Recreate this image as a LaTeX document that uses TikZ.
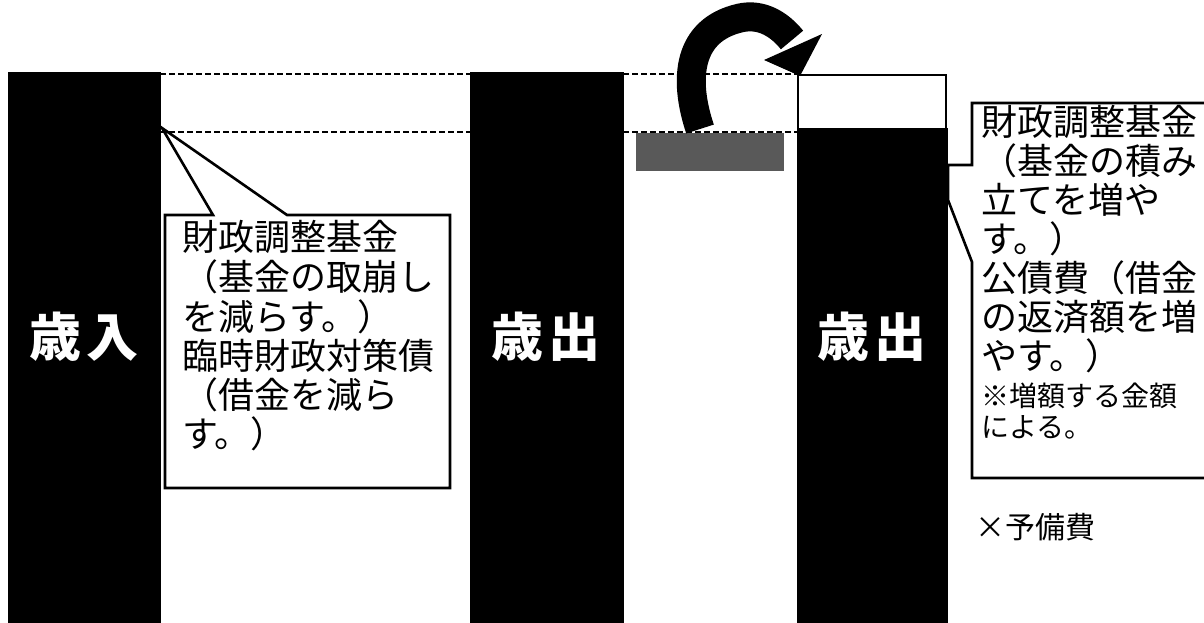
\documentclass[tikz,border=0pt]{standalone}
\usepackage{fontspec}
\newfontfamily\jp{Noto Sans CJK JP}
\begin{document}
\begin{tikzpicture}[x=1pt,y=-1pt,
  bar/.style={fill=black,draw=black},
  guide/.style={line width=2pt,dash pattern=on 6pt off 3pt},
  callout/.style={draw=black,line width=2.6pt,fill=white,line join=miter},
  txt/.style={anchor=west,inner sep=0pt,font=\jp\fontsize{36}{40}\selectfont},
  smalltxt/.style={anchor=west,inner sep=0pt,font=\jp\fontsize{28}{32}\selectfont},
  barlabel/.style={text=white,inner sep=0pt,font=\jp\bfseries\fontsize{52}{56}\selectfont}]
\useasboundingbox (0,0) rectangle (1204,622);
\clip (0,0) rectangle (1204,622);
\fill[white] (0,0) rectangle (1204,622);

% guide lines
\draw[guide] (160,74) -- (470,74);
\draw[guide] (623,74) -- (797,74);
\draw[guide] (160,132) -- (470,132);
\draw[guide] (623,132) -- (797,132);

% bars
\path[bar] (8,72) rectangle (160,622);
\path[bar] (470,72) rectangle (623,622);
\draw[line width=2.6pt,fill=white] (798,75) rectangle (946,622);
\path[bar] (797,128) rectangle (947,622);

\node[barlabel] (inL) at (84,337) {歳\kern6pt 入};
\node[barlabel] (outA) at (546,337) {歳\kern6pt 出};
\node[barlabel] (outB) at (872,337) {歳\kern6pt 出};

% grey box
\fill[black!65] (636,133) rectangle (784,171);

% curved arrow
\draw[line width=29pt,black] (700,129) .. controls (683,78) and (688,30) .. (740,18)
      .. controls (762,13) and (780,25) .. (792,40);
\fill[black] (764,60) -- (822,34) -- (800,76) -- cycle;

% left callout
\draw[callout] (165,215) -- (213,215) -- (162,128) -- (287,215) -- (450,215)
   -- (450,488) -- (165,488) -- cycle;
\node[txt] (l1) at (182,237) {財政調整基金};
\node[txt] (l2) at (182,277) {（基金の取崩し};
\node[txt] (l3) at (182,317) {を減らす。）};
\node[txt] (l4) at (182,356) {臨時財政対策債};
\node[txt] (l5) at (182,395) {（借金を減ら};
\node[txt] (l6) at (182,434) {す。）};

% right callout
\draw[callout] (972,165) -- (972,103) -- (1215,103) -- (1215,478) -- (972,478)
   -- (972,262) -- (948,200) -- (948,165) -- cycle;
\node[txt] (r1) at (981,122) {財政調整基金};
\node[txt] (r2) at (981,161) {（基金の積み};
\node[txt] (r3) at (981,200) {立てを増や};
\node[txt] (r4) at (981,239) {す。）};
\node[txt] (r5) at (981,278) {公債費（借金};
\node[txt] (r6) at (981,317) {の返済額を増};
\node[txt] (r7) at (981,356) {やす。）};
\node[smalltxt] (r8) at (981,396) {※増額する金額};
\node[smalltxt] (r9) at (981,427) {による。};

\node[anchor=west,inner sep=0pt,font=\jp\fontsize{30}{34}\selectfont] (yobi) at (975,527) {×予備費};
\end{tikzpicture}
\end{document}
